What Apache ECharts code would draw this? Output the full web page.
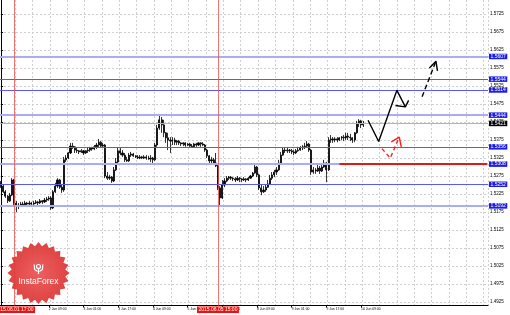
<!DOCTYPE html>
<html><head><meta charset="utf-8">
<script src="https://cdn.jsdelivr.net/npm/echarts@6/dist/echarts.min.js"></script>
<style>html,body{margin:0;padding:0;background:#fff}#c{width:510px;height:315px}</style>
</head><body><div id="c"></div>
<script>
// ---- tick labels ----
const yTicks = [1.4925,1.4975,1.5025,1.5075,1.5125,1.5175,1.5225,1.5275,1.5325,1.5375,1.5425,1.5475,1.5525,1.5575,1.5625,1.5675,1.5725];
const xTickLabels = ['2 Jun 09:00','3 Jun 01:00','3 Jun 17:00','4 Jun 09:00','5 Jun 01:00','5 Jun 17:00','8 Jun 09:00','9 Jun 01:00','9 Jun 17:00','10 Jun 09:00'];

// ---- H1 bars: [open, close, low, high] from 1 Jun 11:00 to 10 Jun 10:00 ----
const ohlc = [
[1.5256,1.5247,1.5242,1.5261],[1.5247,1.5231,1.5228,1.5250],[1.5231,1.5219,1.5214,1.5236],[1.5219,1.5206,1.5200,1.5222],
[1.5206,1.5222,1.5203,1.5228],[1.5222,1.5264,1.5219,1.5269],[1.5264,1.5200,1.5194,1.5267],[1.5200,1.5192,1.5175,1.5206],
[1.5192,1.5194,1.5183,1.5200],[1.5194,1.5197,1.5189,1.5203],[1.5197,1.5194,1.5189,1.5203],[1.5194,1.5200,1.5192,1.5206],
[1.5200,1.5197,1.5192,1.5203],[1.5197,1.5200,1.5194,1.5206],[1.5200,1.5197,1.5192,1.5203],[1.5197,1.5200,1.5194,1.5206],
[1.5200,1.5203,1.5197,1.5208],[1.5203,1.5200,1.5194,1.5206],[1.5200,1.5206,1.5197,1.5211],[1.5206,1.5203,1.5197,1.5208],
[1.5203,1.5208,1.5200,1.5214],[1.5208,1.5211,1.5203,1.5217],[1.5211,1.5214,1.5206,1.5219],[1.5214,1.5186,1.5181,1.5219],
[1.5186,1.5231,1.5183,1.5236],[1.5231,1.5247,1.5228,1.5256],[1.5247,1.5264,1.5242,1.5269],[1.5264,1.5244,1.5239,1.5267],
[1.5244,1.5236,1.5228,1.5250],[1.5236,1.5320,1.5231,1.5328],[1.5320,1.5325,1.5314,1.5333],[1.5325,1.5339,1.5322,1.5342],
[1.5339,1.5358,1.5336,1.5367],[1.5358,1.5356,1.5350,1.5367],[1.5356,1.5347,1.5339,1.5358],[1.5347,1.5345,1.5339,1.5353],
[1.5345,1.5342,1.5336,1.5347],[1.5342,1.5345,1.5339,1.5350],[1.5345,1.5339,1.5333,1.5347],[1.5339,1.5345,1.5336,1.5347],
[1.5345,1.5347,1.5339,1.5353],[1.5347,1.5353,1.5342,1.5356],[1.5353,1.5350,1.5345,1.5356],[1.5350,1.5356,1.5347,1.5361],
[1.5356,1.5361,1.5350,1.5367],[1.5361,1.5369,1.5356,1.5378],[1.5369,1.5358,1.5353,1.5372],[1.5358,1.5361,1.5353,1.5367],
[1.5361,1.5275,1.5269,1.5364],[1.5275,1.5269,1.5264,1.5286],[1.5269,1.5272,1.5264,1.5278],[1.5272,1.5261,1.5256,1.5275],
[1.5261,1.5292,1.5258,1.5300],[1.5292,1.5314,1.5289,1.5325],[1.5314,1.5345,1.5311,1.5353],[1.5345,1.5339,1.5333,1.5353],
[1.5339,1.5333,1.5328,1.5347],[1.5333,1.5320,1.5314,1.5339],[1.5320,1.5317,1.5314,1.5328],[1.5317,1.5333,1.5314,1.5339],
[1.5333,1.5336,1.5328,1.5342],[1.5336,1.5331,1.5328,1.5339],[1.5331,1.5328,1.5325,1.5333],[1.5328,1.5325,1.5322,1.5333],
[1.5325,1.5328,1.5322,1.5333],[1.5328,1.5325,1.5322,1.5331],[1.5325,1.5328,1.5322,1.5333],[1.5328,1.5325,1.5320,1.5333],
[1.5325,1.5322,1.5320,1.5331],[1.5322,1.5325,1.5314,1.5333],[1.5325,1.5320,1.5306,1.5328],[1.5320,1.5361,1.5317,1.5367],
[1.5361,1.5408,1.5356,1.5417],[1.5408,1.5431,1.5403,1.5442],[1.5431,1.5417,1.5395,1.5439],[1.5417,1.5395,1.5383,1.5431],
[1.5395,1.5381,1.5367,1.5397],[1.5381,1.5375,1.5347,1.5395],[1.5375,1.5372,1.5339,1.5383],[1.5372,1.5375,1.5361,1.5383],
[1.5375,1.5369,1.5361,1.5381],[1.5369,1.5372,1.5361,1.5375],[1.5372,1.5367,1.5361,1.5375],[1.5367,1.5364,1.5358,1.5369],
[1.5364,1.5367,1.5358,1.5369],[1.5367,1.5361,1.5356,1.5369],[1.5361,1.5364,1.5358,1.5367],[1.5364,1.5358,1.5356,1.5367],
[1.5358,1.5356,1.5353,1.5364],[1.5356,1.5364,1.5353,1.5367],[1.5364,1.5361,1.5356,1.5367],[1.5361,1.5367,1.5358,1.5369],
[1.5367,1.5364,1.5356,1.5369],[1.5364,1.5361,1.5358,1.5369],[1.5361,1.5347,1.5342,1.5364],[1.5347,1.5331,1.5325,1.5350],
[1.5331,1.5317,1.5311,1.5333],[1.5317,1.5320,1.5311,1.5328],[1.5320,1.5311,1.5306,1.5325],[1.5311,1.5303,1.5300,1.5339],
[1.5303,1.5242,1.5236,1.5306],[1.5242,1.5214,1.5189,1.5247],[1.5214,1.5250,1.5211,1.5264],[1.5250,1.5261,1.5244,1.5269],
[1.5261,1.5269,1.5258,1.5275],[1.5269,1.5272,1.5264,1.5275],[1.5272,1.5269,1.5264,1.5275],[1.5269,1.5267,1.5261,1.5272],
[1.5267,1.5264,1.5258,1.5272],[1.5264,1.5269,1.5261,1.5275],[1.5269,1.5267,1.5258,1.5272],[1.5267,1.5264,1.5258,1.5269],
[1.5264,1.5267,1.5261,1.5272],[1.5267,1.5264,1.5258,1.5269],[1.5264,1.5269,1.5261,1.5272],[1.5269,1.5275,1.5267,1.5278],
[1.5275,1.5283,1.5272,1.5286],[1.5283,1.5300,1.5281,1.5306],[1.5300,1.5278,1.5272,1.5303],[1.5278,1.5242,1.5236,1.5281],
[1.5242,1.5231,1.5222,1.5250],[1.5231,1.5236,1.5228,1.5247],[1.5236,1.5244,1.5231,1.5253],[1.5244,1.5253,1.5242,1.5264],
[1.5253,1.5269,1.5250,1.5278],[1.5269,1.5278,1.5264,1.5286],[1.5278,1.5286,1.5272,1.5292],[1.5286,1.5292,1.5278,1.5300],
[1.5292,1.5311,1.5289,1.5320],[1.5311,1.5333,1.5308,1.5342],[1.5333,1.5347,1.5331,1.5353],[1.5347,1.5345,1.5339,1.5353],
[1.5345,1.5347,1.5339,1.5353],[1.5347,1.5345,1.5339,1.5350],[1.5345,1.5342,1.5336,1.5350],[1.5342,1.5339,1.5333,1.5347],
[1.5339,1.5345,1.5336,1.5350],[1.5345,1.5347,1.5342,1.5356],[1.5347,1.5353,1.5345,1.5358],[1.5353,1.5356,1.5347,1.5361],
[1.5356,1.5358,1.5350,1.5367],[1.5358,1.5364,1.5353,1.5372],[1.5364,1.5347,1.5342,1.5367],[1.5347,1.5286,1.5278,1.5350],
[1.5286,1.5292,1.5281,1.5300],[1.5292,1.5289,1.5281,1.5297],[1.5289,1.5297,1.5286,1.5306],[1.5297,1.5289,1.5281,1.5303],
[1.5289,1.5300,1.5286,1.5306],[1.5300,1.5311,1.5297,1.5320],[1.5311,1.5292,1.5258,1.5314],[1.5292,1.5375,1.5289,1.5383],
[1.5375,1.5378,1.5367,1.5389],[1.5378,1.5375,1.5367,1.5383],[1.5375,1.5378,1.5369,1.5383],[1.5378,1.5375,1.5369,1.5383],
[1.5375,1.5381,1.5372,1.5383],[1.5381,1.5383,1.5375,1.5386],[1.5383,1.5381,1.5372,1.5389],[1.5381,1.5386,1.5375,1.5395],
[1.5386,1.5383,1.5375,1.5395],[1.5383,1.5381,1.5372,1.5392],[1.5381,1.5375,1.5367,1.5383],[1.5375,1.5395,1.5369,1.5397],
[1.5395,1.5420,1.5392,1.5428],[1.5420,1.5428,1.5411,1.5433],[1.5428,1.5417,1.5408,1.5431],[1.5417,1.5421,1.5411,1.5428]
];

// ---- horizontal levels ----
const strongLevels = [1.5607, 1.5444, 1.5308, 1.5192];
const thinLevels = [1.5544, 1.5514, 1.5356, 1.5252];
const currentPrice = 1.5421;
const redSegment = {fromIndex: 156, toIndex: 224, price: 1.5308};

// ---- vertical markers ----
const vLineIndex = [6, 100];
const vLineText = ['2015.06.01 17:00', '2015.06.05 15:00'];

// ---- forecast arrows: [bar index, price] ----
const arrowBlack = [[169.2,1.5430],[174.1,1.5371],[182.5,1.5513],[186.4,1.5467]];
const arrowBlackHead = [[181.8,1.5471],[186.4,1.5467],[187.9,1.5485]];
const arrowRed = [[175.6,1.5351],[179.45,1.5325],[183.6,1.5383]];
const arrowRedHead = [[179.9,1.5370],[183.6,1.5383],[184.5,1.5356]];
const arrowDash = [[194.1,1.5495],[200.5,1.5594]];
const arrowDashHead = [[197.5,1.5575],[200.5,1.5594],[201.2,1.5567]];

// ---- categories (hourly, weekend skipped) ----
const N = 225;
const categories = [];
for (let i = 0; i < N; i++) {
  let d, h;
  if (i < 109) { const t = 11 + i; d = 1 + Math.floor(t / 24); h = t % 24; }
  else { const t = i - 109; d = 8 + Math.floor(t / 24); h = t % 24; }
  categories.push(d + ' Jun ' + String(h).padStart(2, '0') + ':00');
}

const FONT = 'Liberation Sans';
const boxLabel = (v, bg) => ({show: true, position: 'end', distance: 1, formatter: v.toFixed(4), fontSize: 5, fontFamily: FONT,
  color: '#fff', backgroundColor: bg, padding: [0.5, 1.5, 0, 1.5]});

const mlData = [];
mlData.push({yAxis: currentPrice, lineStyle: {color: '#b4b4b4', width: 1, type: 'solid'}, label: boxLabel(currentPrice, '#000')});
strongLevels.forEach(v => mlData.push({yAxis: v, lineStyle: {color: '#a9aef2', width: 2, type: 'solid'}, label: boxLabel(v, '#1c1ce6')}));
thinLevels.forEach(v => mlData.push({yAxis: v, lineStyle: {color: '#5a5af0', width: 1, type: 'solid'}, label: boxLabel(v, '#1c1ce6')}));
mlData.push([{coord: [categories[redSegment.fromIndex], redSegment.price]}, {coord: [categories[redSegment.toIndex], redSegment.price],
  lineStyle: {color: '#e01a1a', width: 2, type: 'solid'}, label: {show: false}}]);
vLineIndex.forEach((idx, k) => mlData.push({xAxis: categories[idx], lineStyle: {color: 'rgba(236,80,80,0.8)', width: 1, type: 'solid'},
  label: {show: true, position: 'start', distance: 1, formatter: vLineText[k], fontSize: 5, fontFamily: FONT, color: '#fff',
    backgroundColor: '#f01010', padding: [1, 1.5, 0.5, 1.5]}}));

const showLabel = (i, v) => xTickLabels.indexOf(v) >= 0;

const arrowSeries = (data, color, width, type) => ({type: 'line', xAxisIndex: 1, yAxisIndex: 0, data, symbol: 'none', silent: true,
  animation: false, z: 6, lineStyle: {color, width, type}});

// ---- logo (decoration) ----
const starPts = [];
for (let k = 0; k < 48; k++) {
  const a = k * Math.PI / 24 - Math.PI / 2;
  const r = k % 2 === 0 ? 31 : 27;
  starPts.push([38.5 + r * Math.cos(a), 273 + r * Math.sin(a)]);
}

const chart = echarts.init(document.getElementById('c'), null, {renderer: 'canvas'});
chart.setOption({
  backgroundColor: '#fff',
  animation: false,
  grid: {left: 0, right: 22, top: 0, bottom: 9.5, containLabel: false, outerBoundsMode: 'none'},
  xAxis: [{
    type: 'category', data: categories, boundaryGap: true,
    axisLine: {show: true, lineStyle: {color: '#000', width: 1}},
    axisTick: {show: true, alignWithLabel: true, interval: showLabel, length: 2, lineStyle: {color: '#000'}},
    axisLabel: {interval: showLabel, fontSize: 3.4, fontFamily: FONT, color: '#000', align: 'left', margin: 2},
    splitLine: {show: true, interval: (i) => i % 8 === 7, lineStyle: {color: '#cfcfcf', width: 1, type: [2, 2]}}
  }, {
    type: 'value', min: -0.5, max: N - 0.5, show: false, gridIndex: 0
  }],
  yAxis: {
    type: 'value', position: 'right', min: 1.491528, max: 1.576389, scale: true,
    axisLine: {show: true, lineStyle: {color: '#000', width: 1}},
    axisTick: {show: true, customValues: yTicks, length: 2, lineStyle: {color: '#000'}},
    axisLabel: {customValues: yTicks, formatter: v => v.toFixed(4), fontSize: 4.5, fontFamily: FONT, color: '#000', margin: 2},
    splitLine: {show: true, lineStyle: {color: '#cfcfcf', width: 1, type: [2, 2]}}
  },
  series: [
    {type: 'candlestick', xAxisIndex: 0, yAxisIndex: 0, data: ohlc, barWidth: 1.6, silent: true,
     itemStyle: {color: '#000', color0: '#000', borderColor: '#000', borderColor0: '#000', borderWidth: 0.8},
     markLine: {silent: true, symbol: ['none', 'none'], precision: 5, animation: false, data: mlData}},
    arrowSeries(arrowBlack, '#000', 1.4, 'solid'),
    arrowSeries(arrowBlackHead, '#000', 1.4, 'solid'),
    arrowSeries(arrowRed, '#ff1a1a', 1.4, [4, 3]),
    arrowSeries(arrowRedHead, '#ff1a1a', 1.4, 'solid'),
    arrowSeries(arrowDash, '#000', 1.4, [5, 3]),
    arrowSeries(arrowDashHead, '#000', 1.4, 'solid')
  ],
  graphic: [
    {type: 'polygon', shape: {points: starPts}, z: 100, silent: true,
     style: {fill: new echarts.graphic.RadialGradient(0.5, 0.5, 0.5, [{offset: 0, color: '#ec5454'}, {offset: 1, color: '#dc3434'}]), opacity: 0.93}},
    {type: 'circle', shape: {cx: 38.5, cy: 266.5, r: 2}, z: 101, silent: true, style: {fill: 'none', stroke: '#fff', lineWidth: 1.2}},
    {type: 'rect', shape: {x: 37.9, y: 268.5, width: 1.2, height: 5.5}, z: 101, silent: true, style: {fill: '#fff'}},
    {type: 'polyline', shape: {points: [[34.2, 264.5], [34.6, 269.5], [37.6, 271.5]]}, z: 101, silent: true, style: {stroke: '#fff', lineWidth: 1.2, fill: 'none'}},
    {type: 'polyline', shape: {points: [[42.8, 264.5], [42.4, 269.5], [39.4, 271.5]]}, z: 101, silent: true, style: {stroke: '#fff', lineWidth: 1.2, fill: 'none'}},
    {type: 'text', x: 38.5, y: 281.5, z: 101, silent: true,
     style: {text: 'InstaForex', fill: '#fff', fontSize: 8.5, fontFamily: FONT, align: 'center', verticalAlign: 'middle'}}
  ]
});
</script>
</body></html>
